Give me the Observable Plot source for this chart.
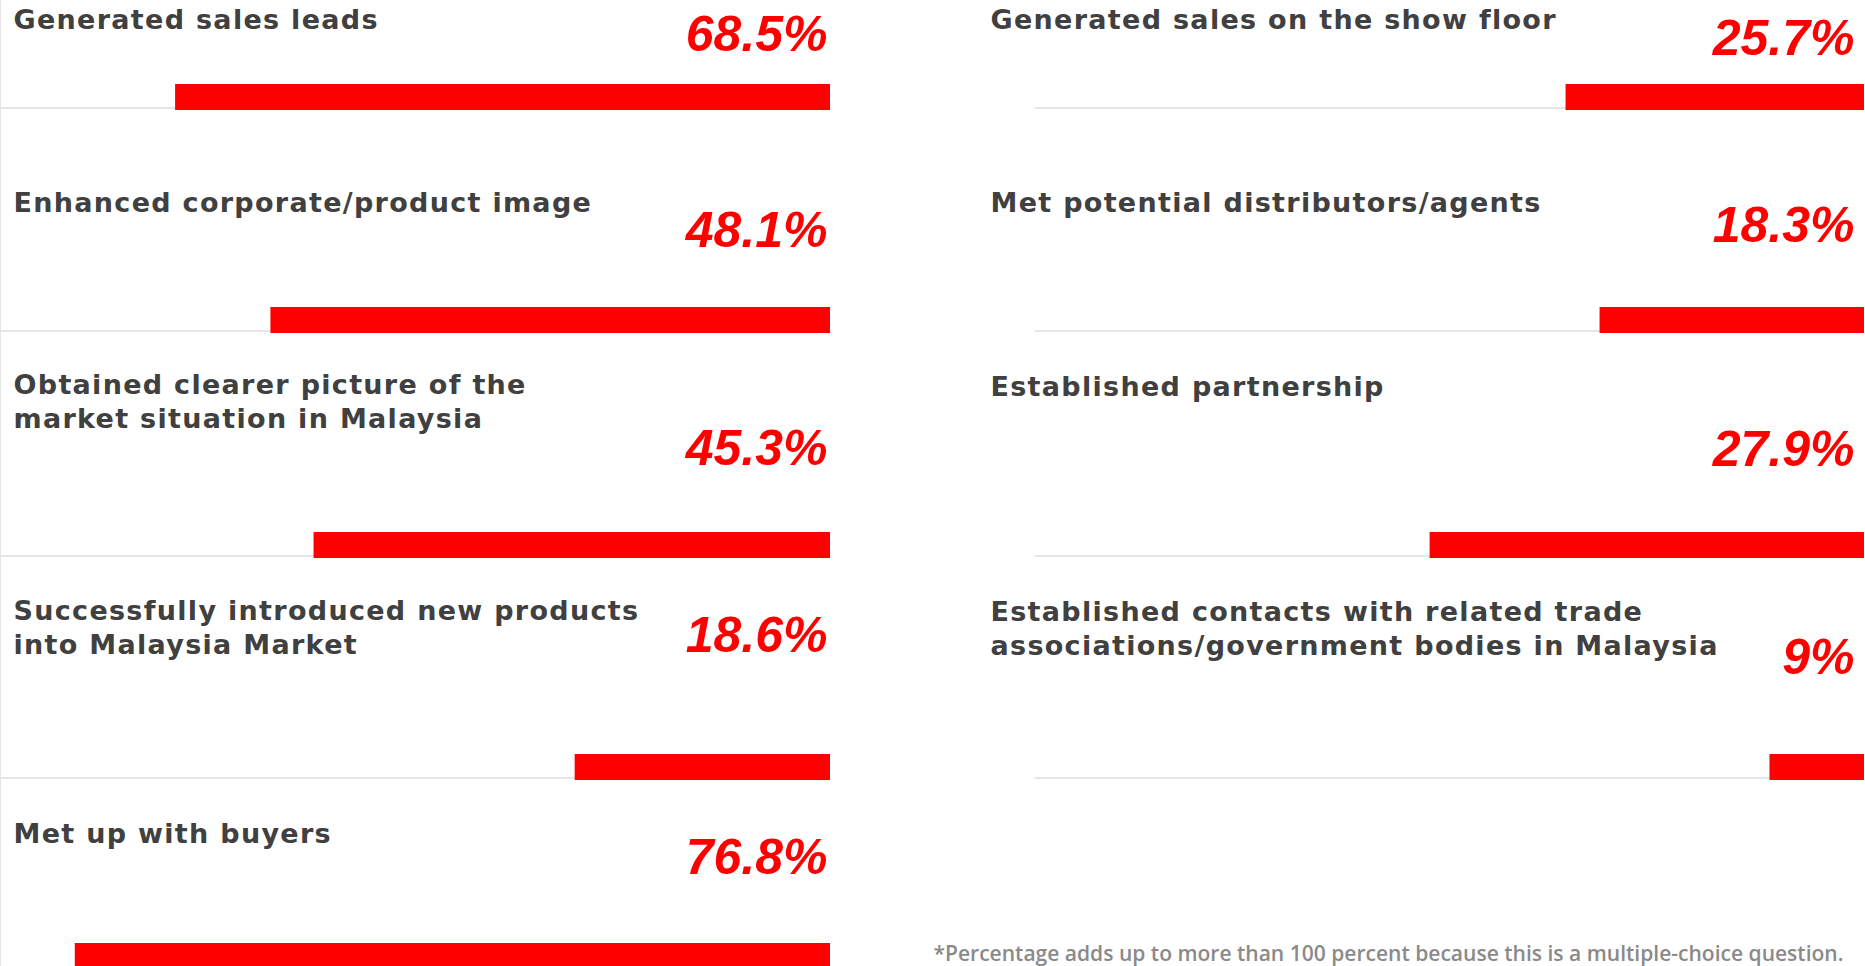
<!DOCTYPE html>
<html>
<head>
<meta charset="utf-8">
<script src="https://cdn.jsdelivr.net/npm/d3@7"></script>
<script src="https://cdn.jsdelivr.net/npm/@observablehq/plot@0.6"></script>
<style>
  html, body { margin: 0; padding: 0; background: #fff; overflow: hidden; }
  #chart { position: relative; width: 1865px; height: 966px; overflow: hidden; }
  #chart svg { display: block; }
  #edge { position: absolute; left: 0; top: 0; width: 1px; height: 966px; background: #e6e6e6; pointer-events: none; }
</style>
</head>
<body>
<div id="chart"><div id="edge"></div></div>
<script>
// ---- data ----
const labels = [
  "Generated sales leads",
  "Enhanced corporate/product image",
  "Obtained clearer picture of the\nmarket situation in Malaysia",
  "Successfully introduced new products\ninto Malaysia Market",
  "Met up with buyers",
  "Generated sales on the show floor",
  "Met potential distributors/agents",
  "Established partnership",
  "Established contacts with related trade\nassociations/government bodies in Malaysia"
];
const values = [68.5, 48.1, 45.3, 18.6, 76.8, 25.7, 18.3, 27.9, 9];
// bar lengths as drawn in the picture (share of column width, %)
const barLengths = [79.0, 67.5, 62.3, 30.8, 91.1, 36.0, 31.9, 52.4, 11.4];
const columns = ["left", "left", "left", "left", "left", "right", "right", "right", "right"];
const rows = [0, 1, 2, 3, 4, 0, 1, 2, 3];
const footnote = "*Percentage adds up to more than 100 percent because this is a multiple-choice question.";

const data = labels.map((label, i) => ({
  label, value: values[i], barLength: barLengths[i], column: columns[i], row: rows[i],
  valueText: values[i] + "%"
}));

// ---- layout (styling only) ----
const rowHeights = [110, 223, 225, 222, 189];
const titleTop = {left: [4, 77, 36, 37, 38], right: [4, 77, 38, 38]};
const valueMid = {left: [34, 120, 115, 77, 77], right: [38, 115, 116, 99]};
const titleDx = {left: 12, right: -45};
const valueDx = {left: -3, right: -10};

function rowPlot(r) {
  const h = rowHeights[r];
  const cells = data.filter(d => d.row === r);
  const marks = [
    Plot.barX(cells.filter(d => r < 4), {fx: "column", x1: 0, x2: 100, fill: "#e6e6e6", insetTop: h - 3, insetBottom: 1}),
    Plot.barX(cells, {fx: "column", x1: 0, x2: "barLength", fill: "#ff0000", insetTop: h - 26, insetBottom: 0})
  ];
  for (const c of cells) {
    marks.push(Plot.text([c], {
      fx: "column", text: "label", frameAnchor: "top-left", lineAnchor: "top", textAnchor: "start",
      dx: titleDx[c.column], dy: titleTop[c.column][r],
      fontFamily: "DejaVu Sans", fontWeight: "bold", fontSize: 27, lineHeight: 1.27, fill: "#404040",
      className: "title"
    }));
    marks.push(Plot.text([c], {
      fx: "column", text: "valueText", frameAnchor: "top-right", lineAnchor: "middle", textAnchor: "end",
      dx: valueDx[c.column], dy: valueMid[c.column][r],
      fontFamily: "Liberation Sans", fontWeight: "bold", fontStyle: "italic", fontSize: 50, fill: "#ff0000"
    }));
  }
  if (r === 4) {
    marks.push(Plot.text([{column: "right", t: footnote}], {
      fx: "column", text: "t", frameAnchor: "top-left", lineAnchor: "top", textAnchor: "start",
      dx: -102, dy: 166, fontFamily: "Open Sans", fontWeight: 600, fontSize: 21, fill: "#8a8a8a",
      className: "footnote"
    }));
  }
  return Plot.plot({
    width: 1865, height: h, margin: 0,
    fx: {domain: ["left", "right"], paddingInner: 0.198, paddingOuter: 0, axis: null, label: null},
    x: {domain: [0, 100], reverse: true, axis: null},
    style: {background: "transparent", overflow: "visible"},
    marks
  });
}

const chart = document.getElementById("chart");
const edge = document.getElementById("edge");
for (let r = 0; r < 5; r++) chart.insertBefore(rowPlot(r), edge);
d3.selectAll(".title text").style("letter-spacing", "1.3px");
d3.selectAll(".footnote text").attr("textLength", 910).attr("lengthAdjust", "spacingAndGlyphs");
</script>
</body>
</html>
